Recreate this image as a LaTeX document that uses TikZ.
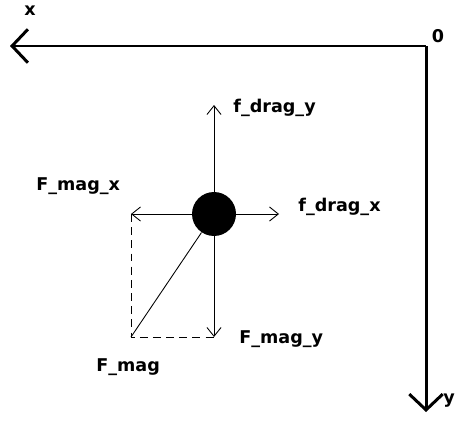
\documentclass[tikz,border=0pt]{standalone}
\usepackage{fontspec}
\setmainfont{DejaVu Sans}
\usetikzlibrary{arrows.meta}
\begin{document}
\begin{tikzpicture}[x=0.02cm, y=-0.02cm, font=\bfseries\fontsize{10}{12}\selectfont,
    >={Straight Barb[length=5pt, width=8pt]},
    axis/.style={line width=1.7pt, ->, >={Straight Barb[length=9pt, width=19pt, line width=1.7pt]}},
    force/.style={->, line width=0.5pt},
    label/.style={anchor=west, inner sep=0pt}]
    \useasboundingbox (0,0) rectangle (455,425);
    % axes
    \coordinate (origin) at (426,46);
    \coordinate (xend) at (10,46);
    \coordinate (yend) at (426,412);
    \draw[axis] (origin) -- (xend);
    \draw[axis] (origin) -- (yend);
    \node (xlabel) at (30,11) {x};
    \node (olabel) at (438,36) {0};
    \node[label] (ylabel) at (443,401) {y};
    % ball and forces
    \node[circle, fill=black, minimum size=0.88cm, inner sep=0pt] (ball) at (214,214) {};
    \coordinate (dragy) at (214,105);
    \coordinate (dragx) at (279,214);
    \coordinate (magx) at (131,214);
    \coordinate (magy) at (214,337);
    \coordinate (mag) at (131,337);
    \draw[force] (ball) -- (dragy);
    \draw[force] (ball) -- (dragx);
    \draw[force] (ball) -- (magx);
    \draw[force] (ball) -- (magy);
    \draw[line width=0.5pt] (ball) -- (mag);
    \draw[dash pattern=on 4.5pt off 3pt, line width=0.5pt] (magx) -- (mag) -- (magy);
    \node[label] (ldragy) at (233,108) {f\_drag\_y};
    \node[label] (ldragx) at (298,207) {f\_drag\_x};
    \node[label] (lmagx) at (36,186) {F\_mag\_x};
    \node[label] (lmagy) at (239,339) {F\_mag\_y};
    \node[label] (lmag) at (96,367) {F\_mag};
\end{tikzpicture}
\end{document}
